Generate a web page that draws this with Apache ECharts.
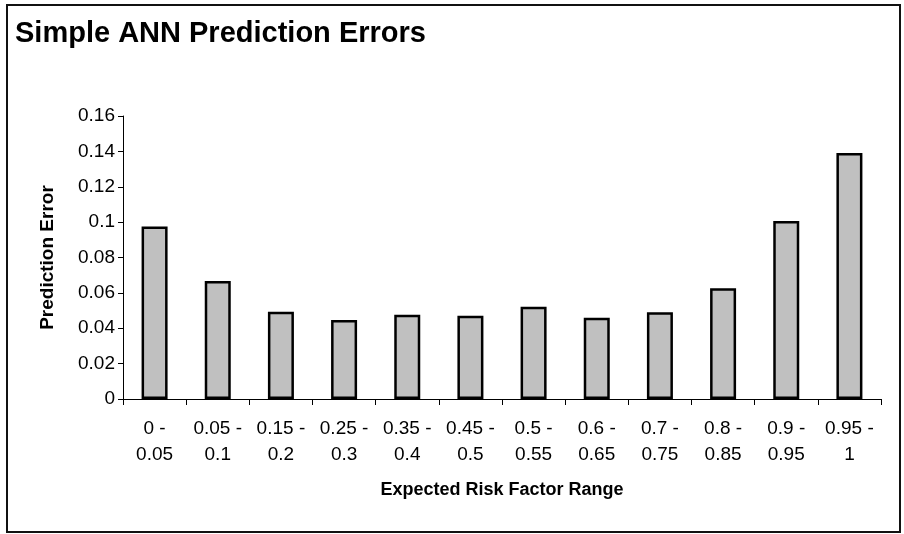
<!DOCTYPE html>
<html>
<head>
<meta charset="utf-8">
<script src="https://cdn.jsdelivr.net/npm/echarts@6/dist/echarts.min.js"></script>
<style>
html,body{margin:0;padding:0;background:#fff;}
#chart{width:904px;height:534px;}
</style>
</head>
<body>
<div id="chart"></div>
<script>
const titleText = "Simple ANN Prediction Errors";
const xAxisName = "Expected Risk Factor Range";
const yAxisName = "Prediction Error";
const categories = ["0 -\n0.05","0.05 -\n0.1","0.15 -\n0.2","0.25 -\n0.3","0.35 -\n0.4","0.45 -\n0.5","0.5 -\n0.55","0.6 -\n0.65","0.7 -\n0.75","0.8 -\n0.85","0.9 -\n0.95","0.95 -\n1"];
const errors = [0.0975, 0.0667, 0.0493, 0.0446, 0.0476, 0.0470, 0.0521, 0.0460, 0.0491, 0.0626, 0.1006, 0.1391];
const yMin = 0, yMax = 0.16, yStep = 0.02;

const font = "Arial, 'Liberation Sans', sans-serif";
const chart = echarts.init(document.getElementById('chart'), null, {renderer:'canvas'});
chart.setOption({
  backgroundColor: '#fff',
  animation: false,
  title: {
    text: titleText, left: 10, top: 14,
    textStyle: {fontFamily: font, fontWeight: 'bold', fontSize: 29, color: '#000'}
  },
  graphic: [{
    type: 'rect', z: -1,
    shape: {x: 7, y: 5, width: 893, height: 527},
    style: {fill: 'none', stroke: '#111', lineWidth: 2}
  }],
  grid: {left: 123, right: 23, top: 116, bottom: 135},
  xAxis: {
    type: 'category', data: categories,
    name: xAxisName, nameLocation: 'middle', nameGap: 82,
    nameTextStyle: {fontFamily: font, fontWeight: 'bold', fontSize: 18, color: '#000'},
    axisLine: {lineStyle: {color: '#000', width: 1}},
    axisTick: {show: true, length: 6, lineStyle: {color: '#000'}},
    axisLabel: {fontFamily: font, fontSize: 19, color: '#000', lineHeight: 26, margin: 17, interval: 0}
  },
  yAxis: {
    type: 'value', min: yMin, max: yMax, interval: yStep,
    name: yAxisName, nameLocation: 'middle', nameGap: 66, nameRotate: 90,
    nameTextStyle: {fontFamily: font, fontWeight: 'bold', fontSize: 19, color: '#000'},
    axisLine: {show: true, lineStyle: {color: '#000', width: 1}},
    axisTick: {show: true, length: 5, lineStyle: {color: '#000'}},
    axisLabel: {fontFamily: font, fontSize: 19, color: '#000', margin: 8},
    splitLine: {show: false}
  },
  series: [{
    type: 'bar', data: errors, barWidth: 26,
    itemStyle: {color: '#c0c0c0', borderColor: '#000', borderWidth: 2.5}
  }]
});
</script>
</body>
</html>
